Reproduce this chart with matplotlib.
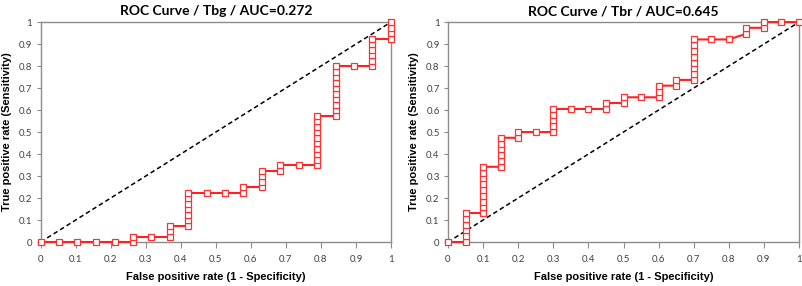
import matplotlib
matplotlib.use("Agg")
import matplotlib.pyplot as plt

# ---- data ----
tbg_fpr = [0, 0.053, 0.105, 0.158, 0.211, 0.263, 0.263, 0.316, 0.368, 0.368, 0.368,
           0.421, 0.421, 0.421, 0.421, 0.421, 0.421, 0.421,
           0.474, 0.526, 0.579, 0.579, 0.632, 0.632, 0.632, 0.632, 0.684, 0.684, 0.737,
           0.789, 0.789, 0.789, 0.789, 0.789, 0.789, 0.789, 0.789, 0.789, 0.789,
           0.842, 0.842, 0.842, 0.842, 0.842, 0.842, 0.842, 0.842, 0.842, 0.842,
           0.895, 0.947, 0.947, 0.947, 0.947, 0.947, 0.947,
           1.0, 1.0, 1.0, 1.0]
tbg_tpr = [0, 0, 0, 0, 0, 0, 0.025, 0.025, 0.025, 0.05, 0.075,
           0.075, 0.1, 0.125, 0.15, 0.175, 0.2, 0.225,
           0.225, 0.225, 0.225, 0.25, 0.25, 0.275, 0.3, 0.325, 0.325, 0.35, 0.35,
           0.35, 0.375, 0.4, 0.425, 0.45, 0.475, 0.5, 0.525, 0.55, 0.575,
           0.575, 0.6, 0.625, 0.65, 0.675, 0.7, 0.725, 0.75, 0.775, 0.8,
           0.8, 0.8, 0.825, 0.85, 0.875, 0.9, 0.925,
           0.925, 0.95, 0.975, 1.0]

tbr_fpr = [0, 0.05, 0.05, 0.05, 0.05, 0.05, 0.05,
           0.1, 0.1, 0.1, 0.1, 0.1, 0.1, 0.1, 0.1, 0.1,
           0.15, 0.15, 0.15, 0.15, 0.15, 0.15,
           0.2, 0.2, 0.25, 0.3, 0.3, 0.3, 0.3, 0.3,
           0.35, 0.4, 0.45, 0.45, 0.5, 0.5, 0.55, 0.6, 0.6, 0.6, 0.65, 0.65,
           0.7, 0.7, 0.7, 0.7, 0.7, 0.7, 0.7, 0.7,
           0.75, 0.8, 0.85, 0.85, 0.9, 0.9, 0.95, 1.0]
tbr_tpr = [0, 0, 0.026, 0.053, 0.079, 0.105, 0.132,
           0.132, 0.158, 0.184, 0.211, 0.237, 0.263, 0.289, 0.316, 0.342,
           0.342, 0.368, 0.395, 0.421, 0.447, 0.474,
           0.474, 0.5, 0.5, 0.5, 0.526, 0.553, 0.579, 0.605,
           0.605, 0.605, 0.605, 0.632, 0.632, 0.658, 0.658, 0.658, 0.684, 0.711, 0.711, 0.737,
           0.737, 0.763, 0.789, 0.816, 0.842, 0.868, 0.895, 0.921,
           0.921, 0.921, 0.947, 0.974, 0.974, 1.0, 1.0, 1.0]

titles = ["ROC Curve / Tbg / AUC=0.272", "ROC Curve / Tbr / AUC=0.645"]
ticks = [0, 0.1, 0.2, 0.3, 0.4, 0.5, 0.6, 0.7, 0.8, 0.9, 1]
tick_labels = ["0", "0.1", "0.2", "0.3", "0.4", "0.5", "0.6", "0.7", "0.8", "0.9", "1"]
xlabel = "False positive rate (1 - Specificity)"
ylabel = "True positive rate (Sensitivity)"

fig = plt.figure(figsize=(8.02, 2.86), dpi=100)
positions = [[0.0507, 0.1538, 0.4368, 0.769], [0.5586, 0.1538, 0.4377, 0.769]]
series = [(tbg_fpr, tbg_tpr), (tbr_fpr, tbr_tpr)]
grey = "#8c8c8c"

for pos, (fx, ty), title in zip(positions, series, titles):
    ax = fig.add_axes(pos)
    ax.plot([0, 1], [0, 1], color="black", linestyle=(0, (3, 2)), linewidth=1.1, zorder=2)
    ax.plot(fx, ty, color="#ff2020", linewidth=1.5, marker="s", markersize=3.8,
            markerfacecolor="white", markeredgecolor="#ff3030", markeredgewidth=0.9,
            zorder=3, clip_on=False)
    ax.set_xlim(0, 1)
    ax.set_ylim(0, 1)
    ax.set_xticks(ticks)
    ax.set_xticklabels(tick_labels)
    ax.set_yticks(ticks)
    ax.set_yticklabels(tick_labels)
    for sp in ax.spines.values():
        sp.set_color(grey)
        sp.set_linewidth(1.0)
    ax.tick_params(axis="x", direction="out", length=4, width=0.8, color=grey,
                   labelsize=7, labelcolor="#404040", pad=5)
    ax.tick_params(axis="y", direction="out", length=3, width=0.8, color=grey,
                   labelsize=7, labelcolor="#404040", pad=3)
    for lab in ax.get_xticklabels() + ax.get_yticklabels():
        lab.set_family("Lato")
    ax.set_xlabel(xlabel, fontsize=8, fontweight="bold", family="Liberation Sans", labelpad=6)
    ax.set_ylabel(ylabel, fontsize=8, fontweight="bold", family="Liberation Sans", labelpad=5)
    ax.set_title(title, fontsize=10, fontweight="bold", family="Lato", pad=5)

fig.savefig("out.png", dpi=100)
